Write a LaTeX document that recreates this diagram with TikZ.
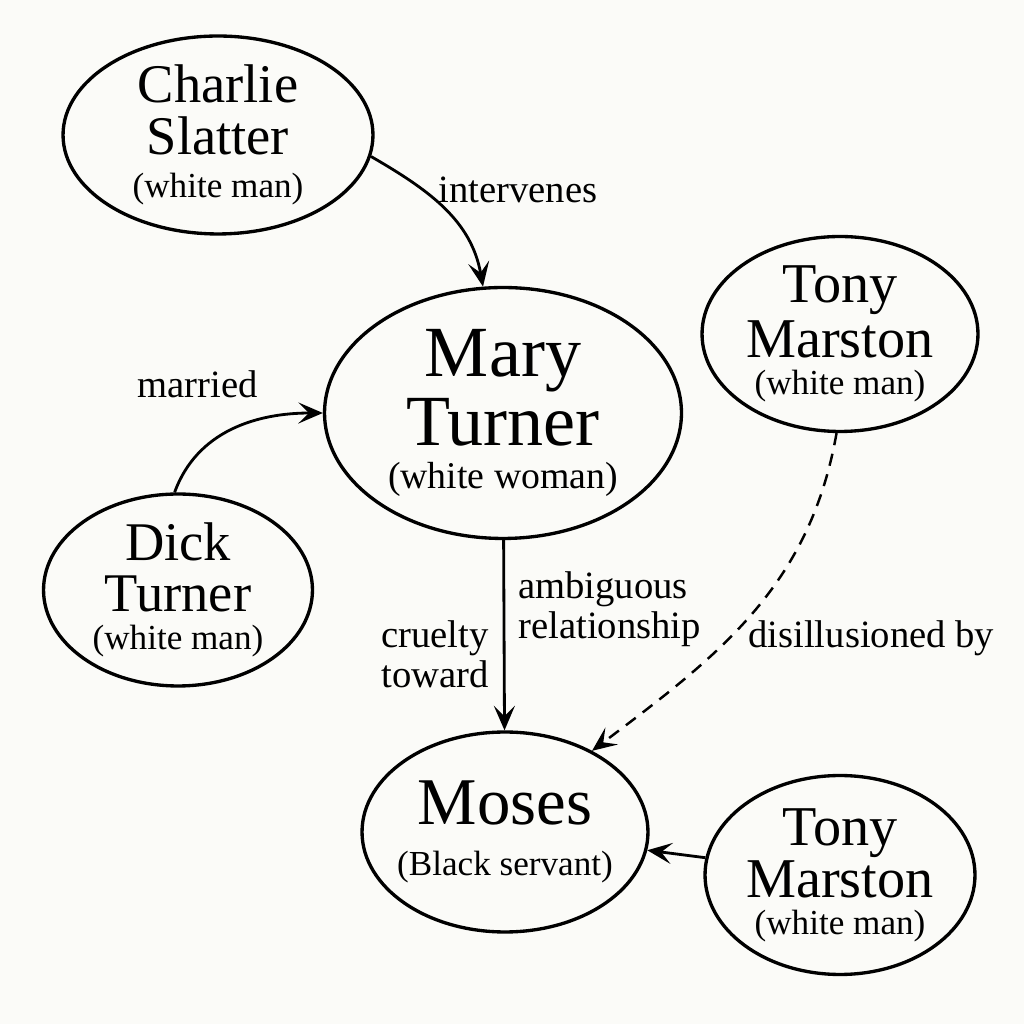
\documentclass[tikz,border=0pt]{standalone}
\usepackage{fontspec}
\setmainfont{Liberation Serif}
\usetikzlibrary{shapes.geometric,arrows.meta}
\definecolor{paper}{RGB}{251,251,248}
\newcommand{\persrole}[2][20]{{\fontsize{#1}{#1}\selectfont #2}}

\begin{document}
\begin{tikzpicture}[x=0.02cm, y=0.02cm,
        >={Stealth[length=14pt,width=12pt,inset=6pt]},
        person/.style={ellipse, draw, line width=1.9pt, inner sep=0pt, align=center},
        rel/.style={->, line width=1.6pt},
        lbl/.style={font=\fontsize{22}{22.7}\selectfont, inner sep=0pt}]

        \fill[paper] (0,0) rectangle (1024,1024);

        % characters
        \node[person, minimum width=6.2cm, minimum height=3.86cm, font=\fontsize{31}{29.5}\selectfont] (charlie) at (218,889) {Charlie\\Slatter\\[-5.1pt]\persrole{(white man)}};
        \node[person, minimum width=7.14cm, minimum height=5.02cm, font=\fontsize{41}{39.1}\selectfont] (mary) at (503,611) {Mary\\Turner\\[-14.5pt]\persrole[21.5]{(white woman)}};
        \node[person, minimum width=5.52cm, minimum height=3.9cm, font=\fontsize{32}{31.2}\selectfont] (tonyA) at (840,690) {Tony\\Marston\\[-10.2pt]\persrole{(white man)}};
        \node[person, minimum width=5.38cm, minimum height=3.84cm, font=\fontsize{31}{28.9}\selectfont] (dick) at (178,434) {Dick\\Turner\\[-6.8pt]\persrole{(white man)}};
        \node[person, minimum width=5.72cm, minimum height=4cm, inner xsep=-6pt, font=\fontsize{38}{28.9}\selectfont] (moses) at (505,192) {Moses\\\persrole{(Black servant)}};
        \node[person, minimum width=5.4cm, minimum height=3.98cm, font=\fontsize{32}{29.5}\selectfont] (tonyB) at (840,149) {Tony\\Marston\\[-8.5pt]\persrole{(white man)}};

        % relations
        \node[lbl, anchor=base west] (intervenes) at (438,821) {intervenes};
        \node[lbl, anchor=base west] (married) at (137,626) {married};
        \node[lbl, align=left, anchor=west] (ambig) at (518,415) {ambiguous\\relationship};
        \node[lbl, align=center] (cruelty) at (435,370) {cruelty\\toward};
        \node[lbl, anchor=base west] (disill) at (748,376) {disillusioned by};

        \draw[rel] (charlie.-8) to[out=-30, in=100] (mary.99);
        \draw[rel] (dick.92) to[out=70, in=180] (mary.180);
        \draw[rel] (mary) -- (moses);
        \draw[rel, dash pattern=on 7pt off 5pt, line width=1.4pt] (tonyA.-92) to[out=-100, in=37] (moses.43);
        \draw[rel] (tonyB) -- (moses);

    \end{tikzpicture}
\end{document}
